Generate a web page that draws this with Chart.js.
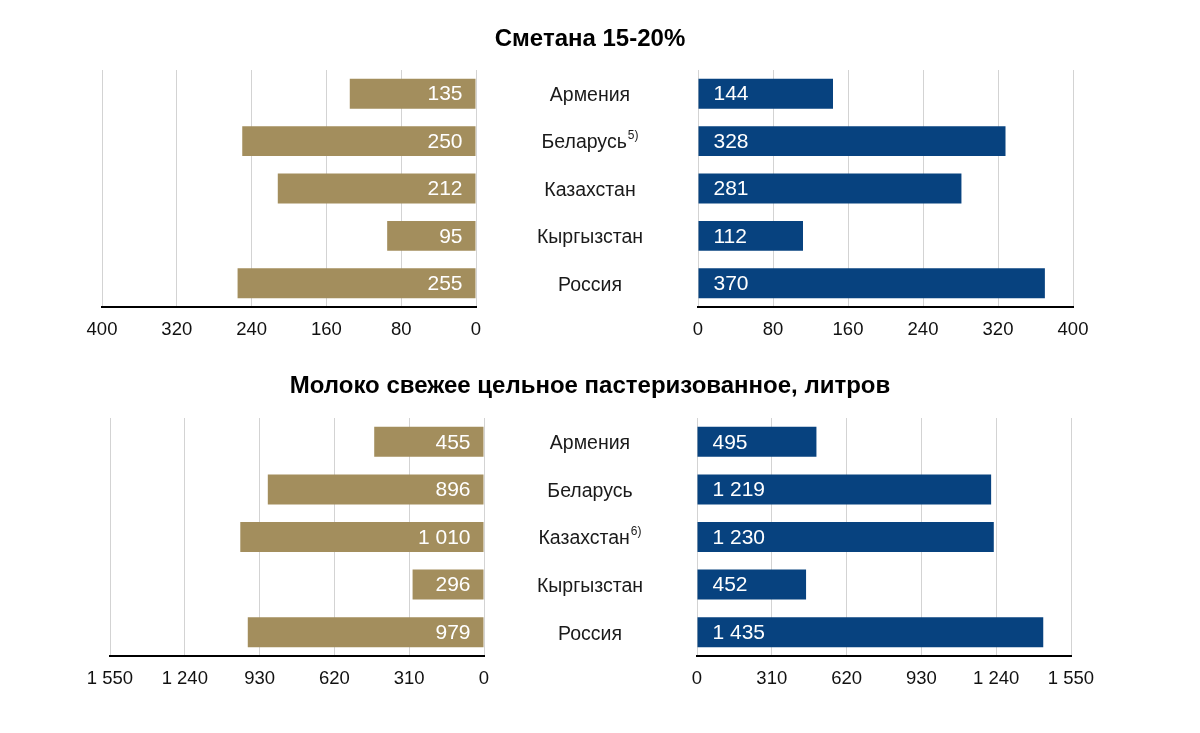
<!DOCTYPE html>
<html>
<head>
<meta charset="utf-8">
<script src="https://cdn.jsdelivr.net/npm/chart.js@4/dist/chart.umd.min.js"></script>
<style>
  html, body { margin: 0; padding: 0; background: #ffffff; }
  #wrap { position: relative; width: 1200px; height: 733px; overflow: hidden; }
  #wrap canvas { position: absolute; left: 0; top: 0; }
</style>
</head>
<body>
<div id="wrap">
  <canvas id="c1" width="1200" height="733"></canvas>
  <canvas id="c2" width="1200" height="733"></canvas>
  <canvas id="c3" width="1200" height="733"></canvas>
  <canvas id="c4" width="1200" height="733"></canvas>
</div>
<script>
// ---- Data ----
const categories = ['Армения', 'Беларусь', 'Казахстан', 'Кыргызстан', 'Россия'];
const smetanaFootnotes = ['', '5)', '', '', ''];
const milkFootnotes = ['', '', '6)', '', ''];

const smetanaTitle = 'Сметана 15-20%';
const milkTitle = 'Молоко свежее цельное пастеризованное, литров';

const smetanaLeft = [135, 250, 212, 95, 255];
const smetanaRight = [144, 328, 281, 112, 370];
const milkLeft = [455, 896, 1010, 296, 979];
const milkRight = [495, 1219, 1230, 452, 1435];

const smetanaTicks = [0, 80, 160, 240, 320, 400];
const milkTicks = [0, 310, 620, 930, 1240, 1550];

// ---- Styles ----
const FONT = '"Liberation Sans", Arial, "DejaVu Sans", sans-serif';
const GOLD = '#a38e5d';
const BLUE = '#07427f';

function fmt(v) {
  return String(v).replace(/\B(?=(\d{3})+(?!\d))/g, ' ');
}

const valueLabelPlugin = {
  id: 'valueLabels',
  afterDatasetsDraw(chart, args, opts) {
    const ctx = chart.ctx;
    const meta = chart.getDatasetMeta(0);
    const data = chart.data.datasets[0].data;
    ctx.save();
    ctx.font = '21px ' + FONT;
    ctx.fillStyle = '#ffffff';
    ctx.textBaseline = 'middle';
    meta.data.forEach((bar, i) => {
      const base = bar.base;
      if (opts.side === 'left') {
        ctx.textAlign = 'right';
        ctx.fillText(fmt(data[i]), base - 13, bar.y + 1);
      } else {
        ctx.textAlign = 'left';
        ctx.fillText(fmt(data[i]), base + 15, bar.y + 1);
      }
    });
    ctx.restore();
  }
};

const categoryLabelPlugin = {
  id: 'categoryLabels',
  afterDraw(chart, args, opts) {
    if (!opts.show) return;
    const ctx = chart.ctx;
    const y = chart.scales.y;
    ctx.save();
    ctx.fillStyle = '#1a1a1a';
    ctx.textBaseline = 'middle';
    chart.data.labels.forEach((lab, i) => {
      const py = y.getPixelForValue(i);
      const note = opts.notes[i] || '';
      ctx.font = '19.5px ' + FONT;
      const w1 = ctx.measureText(lab).width;
      ctx.font = '12px ' + FONT;
      const w2 = note ? ctx.measureText(note).width + 1 : 0;
      const x0 = opts.centerX - (w1 + w2) / 2;
      ctx.textAlign = 'left';
      ctx.font = '19.5px ' + FONT;
      ctx.fillText(lab, x0, py + 2);
      if (note) {
        ctx.font = '12px ' + FONT;
        ctx.fillText(note, x0 + w1 + 1, py - 5);
      }
    });
    if (opts.title) {
      ctx.font = 'bold 24px ' + FONT;
      ctx.fillStyle = '#000000';
      ctx.textAlign = 'center';
      ctx.fillText(opts.title, opts.centerX, opts.titleY, opts.titleMaxWidth);
    }
    ctx.restore();
  }
};

function makeChart(id, values, color, side, tickValues, pad, catOpts) {
  const max = tickValues[tickValues.length - 1];
  return new Chart(document.getElementById(id), {
    type: 'bar',
    data: {
      labels: categories,
      datasets: [{
        data: values,
        backgroundColor: color,
        borderWidth: 0,
        categoryPercentage: 1.0,
        barPercentage: 0.63
      }]
    },
    options: {
      indexAxis: 'y',
      responsive: false,
      animation: false,
      devicePixelRatio: 1,
      layout: { padding: pad },
      plugins: {
        legend: { display: false },
        tooltip: { enabled: false },
        valueLabels: { side: side },
        categoryLabels: catOpts
      },
      scales: {
        x: {
          type: 'linear',
          reverse: side === 'left',
          min: 0,
          max: max,
          afterFit(scale) { scale.height = 40; },
          afterBuildTicks(scale) {
            scale.ticks = tickValues.map(v => ({ value: v }));
          },
          grid: {
            color: '#d3d3d3',
            lineWidth: 1,
            drawTicks: false
          },
          border: { display: true, color: '#000000', width: 2 },
          ticks: {
            padding: 12,
            color: '#111111',
            font: { family: FONT, size: 18.5 },
            maxRotation: 0,
            autoSkip: false,
            callback: (v) => fmt(v)
          }
        },
        y: {
          display: false
        }
      }
    },
    plugins: [valueLabelPlugin, categoryLabelPlugin]
  });
}

// Top panel (Сметана)
makeChart('c1', smetanaLeft, GOLD, 'left', smetanaTicks,
  { left: 102, right: 1200 - 476, top: 70, bottom: 733 - 307 - 40 },
  { show: false });
makeChart('c2', smetanaRight, BLUE, 'right', smetanaTicks,
  { left: 698, right: 1200 - 1073, top: 70, bottom: 733 - 307 - 40 },
  { show: true, notes: smetanaFootnotes, centerX: 590, title: smetanaTitle, titleY: 39, titleMaxWidth: 196 });

// Bottom panel (Молоко)
makeChart('c3', milkLeft, GOLD, 'left', milkTicks,
  { left: 110, right: 1200 - 484, top: 418, bottom: 733 - 656 - 40 },
  { show: false });
makeChart('c4', milkRight, BLUE, 'right', milkTicks,
  { left: 697, right: 1200 - 1071, top: 418, bottom: 733 - 656 - 40 },
  { show: true, notes: milkFootnotes, centerX: 590, title: milkTitle, titleY: 386, titleMaxWidth: 618 });
</script>
</body>
</html>
